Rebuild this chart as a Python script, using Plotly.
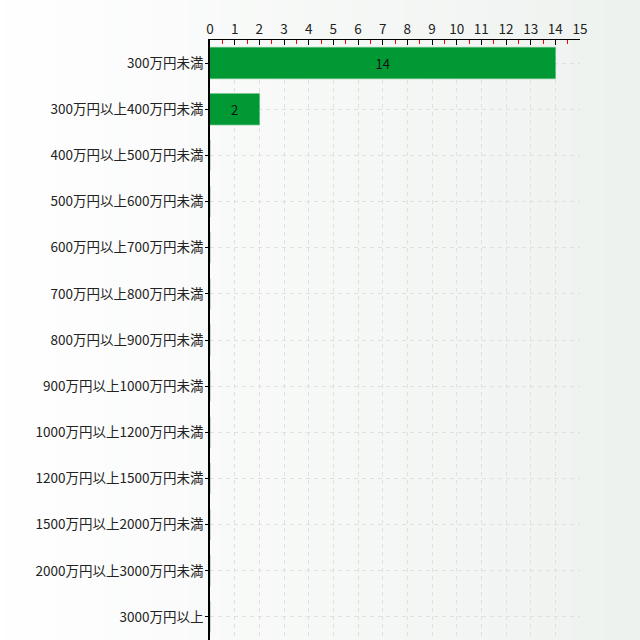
import plotly.graph_objects as go

categories = ["300万円未満", "300万円以上400万円未満", "400万円以上500万円未満",
              "500万円以上600万円未満", "600万円以上700万円未満", "700万円以上800万円未満",
              "800万円以上900万円未満", "900万円以上1000万円未満", "1000万円以上1200万円未満",
              "1200万円以上1500万円未満", "1500万円以上2000万円未満", "2000万円以上3000万円未満",
              "3000万円以上"]
counts = [14, 2, 0, 0, 0, 0, 0, 0, 0, 0, 0, 0, 0]
labels = [str(c) if c > 0 else "" for c in counts]

fig = go.Figure()
fig.add_trace(go.Bar(
    x=counts, y=categories, orientation="h",
    marker=dict(color="#009933", line=dict(color="rgba(0,153,51,0.35)", width=1.5)),
    text=labels, textposition="inside", insidetextanchor="middle",
    textfont=dict(color="#111111", size=13),
    hoverinfo="x+y",
))

# soft left-to-right background gradient
steps = 40
for i in range(steps):
    t = i / (steps - 1)
    r = int(255 - 17 * t)
    g = int(255 - 13 * t)
    b = int(255 - 16 * t)
    fig.add_shape(type="rect", xref="paper", yref="paper",
                  x0=-0.6 + i * 1.8 / steps, x1=-0.6 + (i + 1) * 1.8 / steps + 0.01,
                  y0=-0.1, y1=1.2, fillcolor=f"rgb({r},{g},{b})",
                  line=dict(width=0), layer="below")

fig.update_layout(
    width=640, height=640,
    margin=dict(l=210, r=60, t=40, b=0),
    paper_bgcolor="white", plot_bgcolor="rgba(0,0,0,0)",
    font=dict(family="Noto Sans CJK JP", size=13.5, color="#222222"),
    bargap=0.33, showlegend=False,
)
fig.update_xaxes(
    side="top", range=[0, 15], dtick=1, tick0=0,
    showline=True, linecolor="black", linewidth=1,
    ticks="inside", ticklen=5, tickcolor="black",
    minor=dict(dtick=0.5, tick0=0.5, ticks="inside", ticklen=4, tickcolor="red", showgrid=False),
    showgrid=True, gridcolor="#e0e0e0", griddash="4px,4px", gridwidth=1,
    zeroline=False, fixedrange=True,
)
fig.update_yaxes(
    autorange="reversed",
    showline=True, linecolor="black", linewidth=1.5,
    ticks="outside", ticklen=3, tickcolor="black", ticklabelstandoff=-1,
    showgrid=True, gridcolor="#e0e0e0", griddash="4px,4px", gridwidth=1,
    zeroline=False, fixedrange=True,
)

fig.write_html("out.html", config={"displayModeBar": False},
               post_script="document.body.style.margin='0';")
